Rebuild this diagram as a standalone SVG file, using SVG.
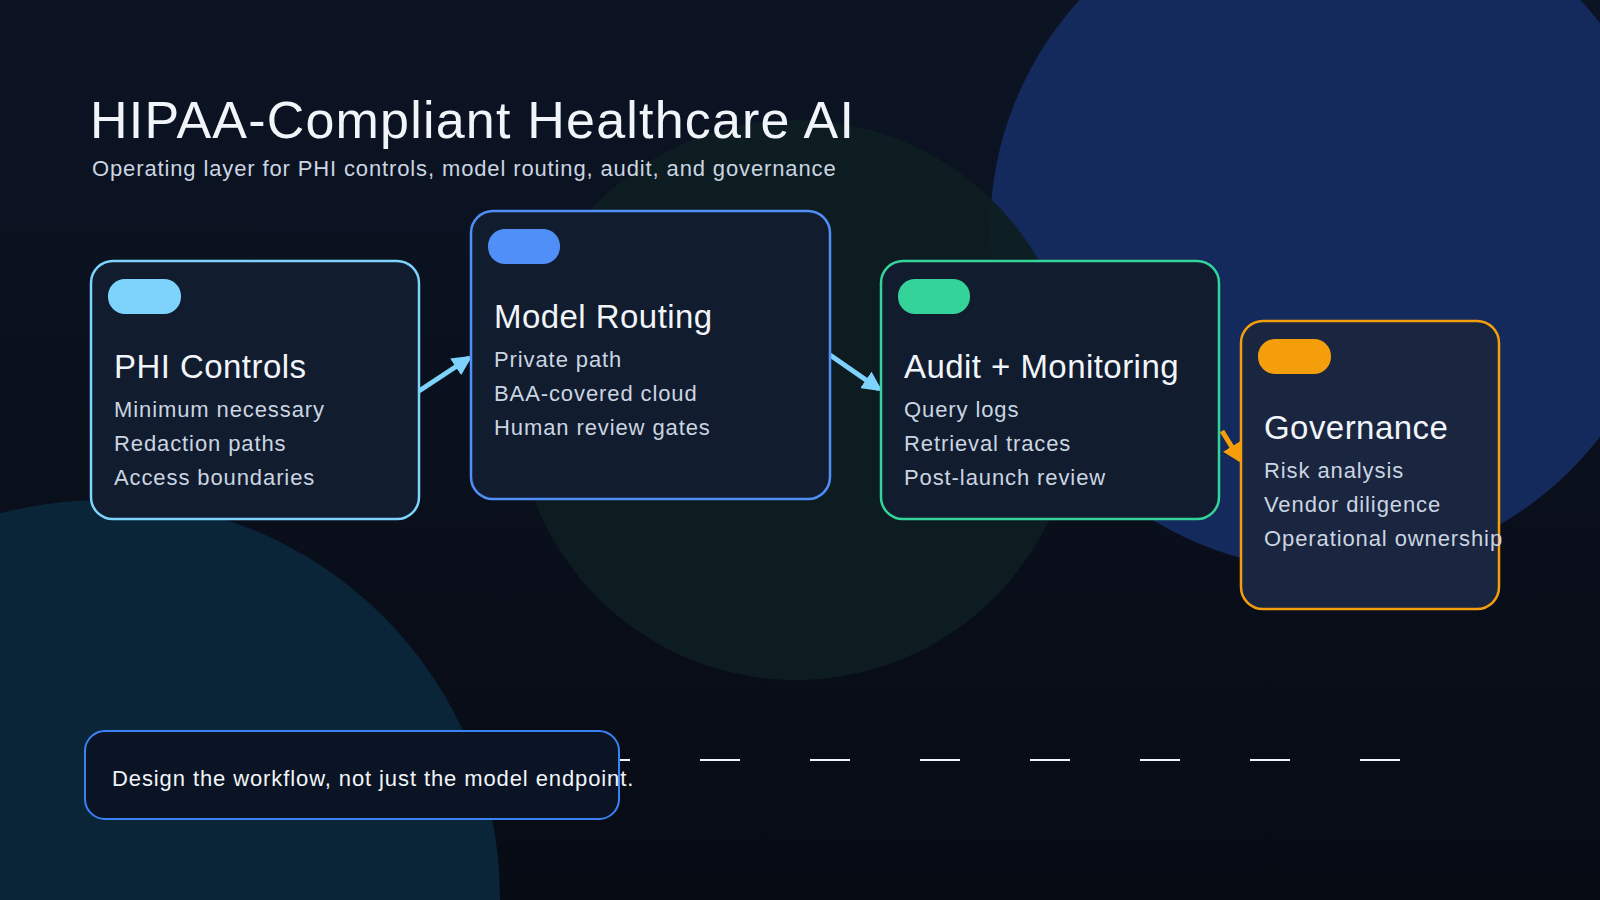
<svg xmlns="http://www.w3.org/2000/svg" width="1600" height="900" viewBox="0 0 1600 900">
<defs>
<linearGradient id="bg" x1="0" y1="0" x2="0" y2="1"><stop offset="0" stop-color="#0c1424"/><stop offset="1" stop-color="#070b14"/></linearGradient>
<marker id="ab" viewBox="0 0 10 10" refX="8" refY="5" markerWidth="4" markerHeight="4" orient="auto"><path d="M0,0 L10,5 L0,10 z" fill="#7dd3fc"/></marker>
<marker id="ao" viewBox="0 0 10 10" refX="8" refY="5" markerWidth="4" markerHeight="4" orient="auto"><path d="M0,0 L10,5 L0,10 z" fill="#f59e0b"/></marker>
<style>
.box{fill:#111c2f;stroke-width:2.5}
.t{font-family:"Liberation Sans",Arial,sans-serif;fill:#f1f5f9;font-size:33px;letter-spacing:0.45px}
.i{font-family:"Liberation Sans",Arial,sans-serif;fill:#cbd5e1;font-size:22px;letter-spacing:0.9px}
</style>
</defs>
<rect width="1600" height="900" fill="url(#bg)"/>
<circle cx="1330" cy="230" r="340" fill="#14295c"/>
<circle cx="796" cy="400" r="280" fill="#0e1d22" opacity="0.95"/>
<circle cx="102" cy="898" r="398" fill="#0a2438"/>
<text x="90" y="138" font-family="Liberation Sans,Arial,sans-serif" font-size="52" fill="#f1f5f9" letter-spacing="1.2">HIPAA-Compliant Healthcare AI</text>
<text x="92" y="176" font-family="Liberation Sans,Arial,sans-serif" font-size="22" fill="#cbd5e1" letter-spacing="0.87">Operating layer for PHI controls, model routing, audit, and governance</text>
<g id="connectors" stroke-width="5" fill="none">
<line x1="419" y1="391" x2="469" y2="358" stroke="#7dd3fc" marker-end="url(#ab)"/>
<line x1="830" y1="355" x2="879" y2="389" stroke="#7dd3fc" marker-end="url(#ab)"/>
<line x1="1222" y1="431" x2="1240" y2="460" stroke="#f59e0b" marker-end="url(#ao)"/>
<line x1="590" y1="760" x2="1410" y2="760" stroke="#f1f5f9" stroke-width="2" stroke-dasharray="40 70"/>
</g>
<g id="phi">
<rect class="box" x="91" y="261" width="328" height="258" rx="22" stroke="#7dd3fc"/>
<rect x="108" y="279" width="73" height="35" rx="17" fill="#7dd3fc"/>
<text class="t" x="114" y="378">PHI Controls</text>
<text class="i" x="114" y="417">Minimum necessary</text>
<text class="i" x="114" y="451">Redaction paths</text>
<text class="i" x="114" y="485">Access boundaries</text>
</g>
<g id="routing">
<rect class="box" x="471" y="211" width="359" height="288" rx="22" stroke="#4f8ff7"/>
<rect x="488" y="229" width="72" height="35" rx="17" fill="#4f8ff7"/>
<text class="t" x="494" y="328">Model Routing</text>
<text class="i" x="494" y="367">Private path</text>
<text class="i" x="494" y="401">BAA-covered cloud</text>
<text class="i" x="494" y="435">Human review gates</text>
</g>
<g id="audit">
<rect class="box" x="881" y="261" width="338" height="258" rx="22" stroke="#34d399"/>
<rect x="898" y="279" width="72" height="35" rx="17" fill="#34d399"/>
<text class="t" x="904" y="378">Audit + Monitoring</text>
<text class="i" x="904" y="417">Query logs</text>
<text class="i" x="904" y="451">Retrieval traces</text>
<text class="i" x="904" y="485">Post-launch review</text>
</g>
<g id="governance">
<rect class="box" x="1241" y="321" width="258" height="288" rx="22" stroke="#f59e0b" style="fill:#1a2540"/>
<rect x="1258" y="339" width="73" height="35" rx="17" fill="#f59e0b"/>
<text class="t" x="1264" y="439">Governance</text>
<text class="i" x="1264" y="478">Risk analysis</text>
<text class="i" x="1264" y="512">Vendor diligence</text>
<text class="i" x="1264" y="546">Operational ownership</text>
</g>
<g id="footer">
<rect x="85" y="731" width="534" height="88" rx="20" fill="#0b1425" stroke="#3b82f6" stroke-width="2"/>
<text class="i" x="112" y="786" style="fill:#f1f5f9">Design the workflow, not just the model endpoint.</text>
</g>
</svg>
